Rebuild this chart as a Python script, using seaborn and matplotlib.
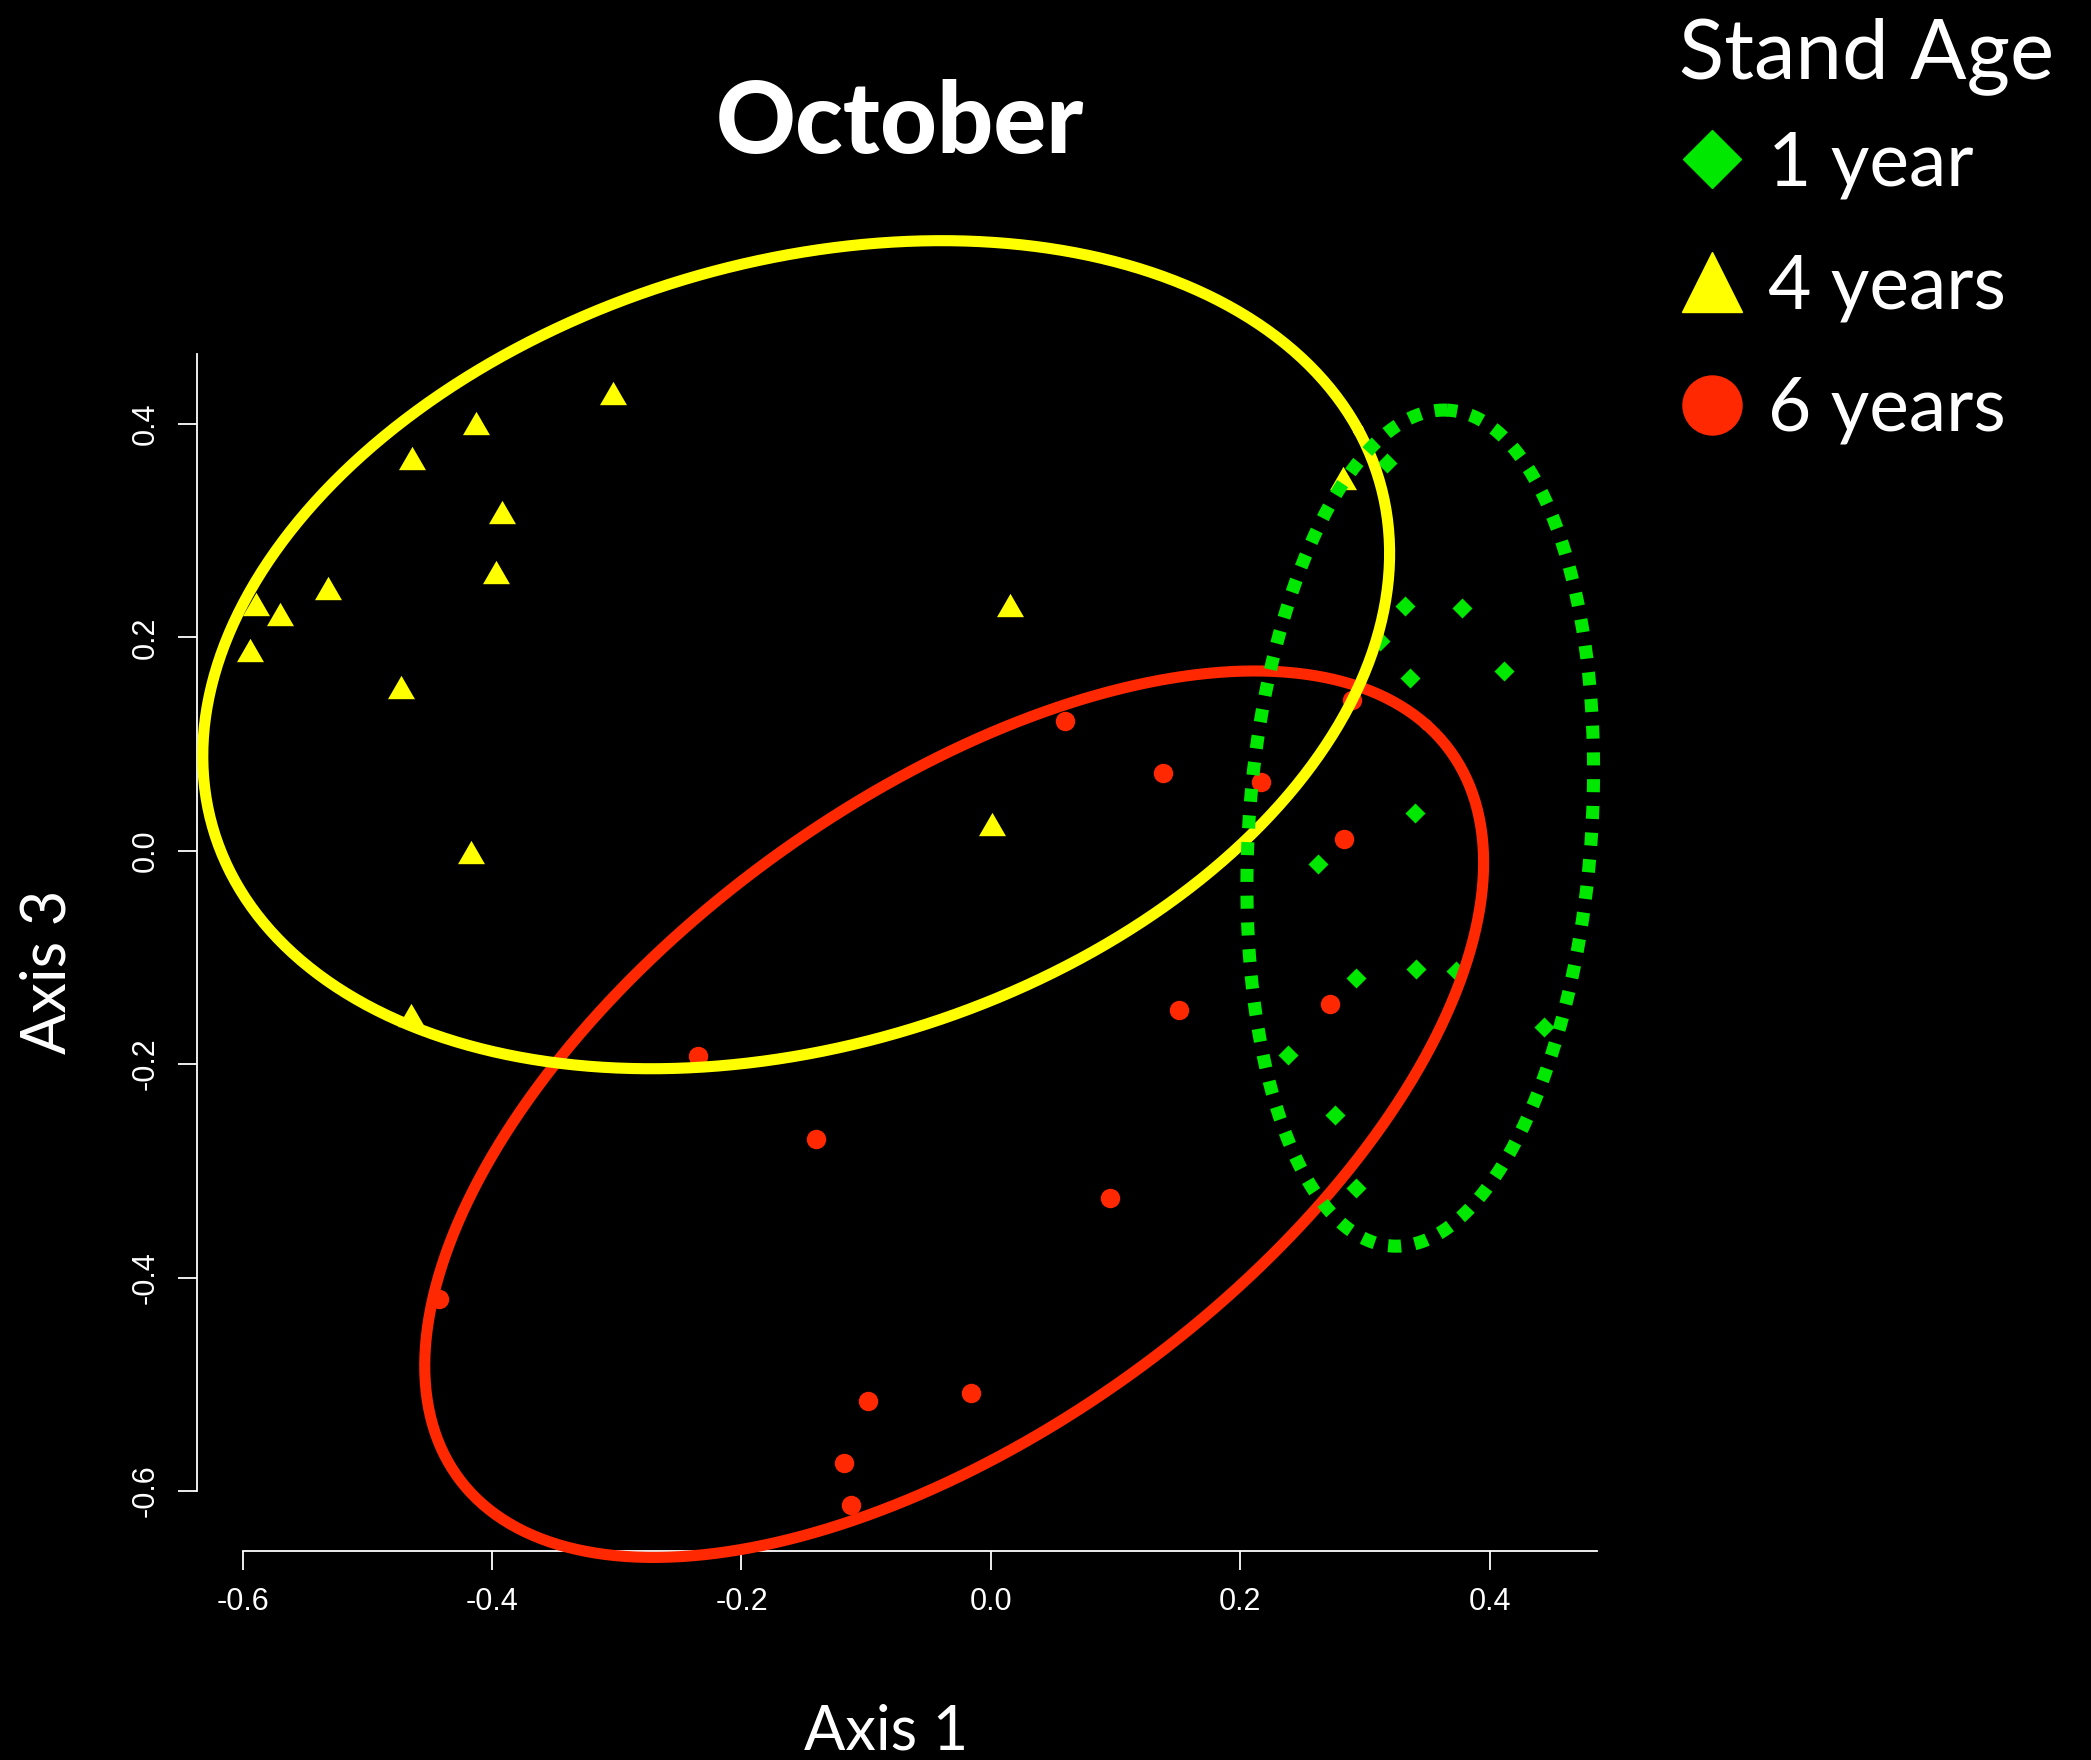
import numpy as np
import pandas as pd
import matplotlib
matplotlib.use("Agg")
import matplotlib.pyplot as plt
import seaborn as sns
from matplotlib.lines import Line2D

# points de l'ordination (Axis 1 / Axis 3)
age1_x = [0.3325, 0.3777, 0.3122, 0.3362, 0.4116, 0.3402, 0.2627, 0.293, 0.341, 0.3732, 0.444, 0.2386, 0.276, 0.2926, 0.318]
age1_y = [0.2299, 0.2276, 0.1965, 0.1615, 0.1685, 0.035, -0.0124, -0.119, -0.111, -0.1129, -0.165, -0.191, -0.2475, -0.316, 0.3633]

age4_x = [-0.3027, -0.4126, -0.4645, -0.3922, -0.3969, -0.5315, -0.589, -0.5705, -0.5945, -0.4731, -0.4173, -0.4649, 0.015, 0.001, 0.2824]
age4_y = [0.429, 0.401, 0.368, 0.3177, 0.2614, 0.2464, 0.2314, 0.2223, 0.1886, 0.1532, -0.0014, -0.1536, 0.23, 0.025, 0.349]

age6_x = [0.0595, 0.1383, 0.2166, 0.2894, 0.283, 0.1512, 0.2724, -0.2352, -0.1405, 0.0959, -0.4429, -0.0158, -0.0982, -0.1175, -0.1123]
age6_y = [0.1215, 0.0725, 0.0645, 0.1409, 0.0113, -0.1496, -0.1433, -0.1921, -0.2703, -0.3256, -0.4198, -0.508, -0.5161, -0.5743, -0.6135]

groupes = ["1 year", "4 years", "6 years"]
couleurs = {"1 year": "#00E800", "4 years": "#FFFF00", "6 years": "#FF2800"}

# ellipses (centre, demi-axes, angle en degres) dans l'ordre de trace
ell_groupe = ["6 years", "4 years", "1 year"]
ell_cx = [-0.0294, -0.1561, 0.3444]
ell_cy = [-0.2469, 0.1838, 0.02125]
ell_a = [0.526, 0.4976, 0.3924]
ell_b = [0.2761, 0.3599, 0.1375]
ell_angle = [43.9, 25.0, 86.8]

xticks = [-0.6, -0.4, -0.2, 0.0, 0.2, 0.4]
xtick_labels = ["-0.6", "-0.4", "-0.2", "0.0", "0.2", "0.4"]
yticks = [-0.6, -0.4, -0.2, 0.0, 0.2, 0.4]
ytick_labels = ["-0.6", "-0.4", "-0.2", "0.0", "0.2", "0.4"]

df = pd.DataFrame({
    "x": age1_x + age4_x + age6_x,
    "y": age1_y + age4_y + age6_y,
    "age": ["1 year"] * len(age1_x) + ["4 years"] * len(age4_x) + ["6 years"] * len(age6_x),
})

sns.set_theme(style="ticks")
plt.rcParams["font.family"] = ["Lato", "DejaVu Sans"]
plt.rcParams["axes.unicode_minus"] = False

fig = plt.figure(figsize=(20.91, 17.6), dpi=100, facecolor="black")
ax = fig.add_axes([0.0803, 0.1044, 0.6917, 0.7759])
ax.set_facecolor("black")

triangle = [(-0.5, -0.433), (0.5, -0.433), (0.0, 0.433)]
marqueurs = {"1 year": "D", "4 years": triangle, "6 years": "o"}
tailles = {"1 year": 104, "4 years": 378, "6 years": 196}

for g in groupes:
    sous = df[df["age"] == g]
    sns.scatterplot(data=sous, x="x", y="y", marker=marqueurs[g], s=tailles[g],
                    color=couleurs[g], linewidth=0, ax=ax, zorder=2, legend=False)

t = np.linspace(0, 2 * np.pi, 500)
for g, cx, cy, a, b, ang in zip(ell_groupe, ell_cx, ell_cy, ell_a, ell_b, ell_angle):
    phi = np.deg2rad(ang)
    ex = cx + a * np.cos(t) * np.cos(phi) - b * np.sin(t) * np.sin(phi)
    ey = cy + a * np.cos(t) * np.sin(phi) + b * np.sin(t) * np.cos(phi)
    if g == "1 year":
        ax.plot(ex, ey, color=couleurs[g], lw=9.4, linestyle=(0, (1.0, 1.05)),
                dash_capstyle="butt", zorder=5, clip_on=False)
    else:
        ax.plot(ex, ey, color=couleurs[g], lw=8, zorder=3 if g == "6 years" else 4,
                clip_on=False, solid_capstyle="round")

ax.set_xlim(-0.66, 0.50)
ax.set_ylim(-0.68, 0.60)

# axes a la R : decales et limites
sns.despine(ax=ax)
ax.spines["left"].set_position(("data", -0.6364))
ax.spines["bottom"].set_position(("data", -0.656))
ax.spines["left"].set_bounds(-0.6, 0.466)
ax.spines["bottom"].set_bounds(-0.6, 0.486)
for sp in ["left", "bottom"]:
    ax.spines[sp].set_color("white")
    ax.spines[sp].set_linewidth(1.3)

ax.set_xticks(xticks)
ax.set_xticklabels(xtick_labels, fontfamily="Liberation Sans", fontsize=22, color="white")
ax.set_yticks(yticks)
ax.set_yticklabels(ytick_labels, fontfamily="Liberation Sans", fontsize=22, color="white",
                   rotation=90, va="center")
ax.tick_params(axis="both", direction="out", length=13.7, width=1.3, color="white", pad=12.5)

ax.set_xlabel("Axis 1", fontsize=44, color="white")
ax.set_ylabel("Axis 3", fontsize=44, color="white")
ax.xaxis.set_label_coords(0.4965, -0.0935)
ax.yaxis.set_label_coords(-0.0635, 0.4425)

ax.set_title("October", fontsize=71, fontweight="black", color="white", x=0.506, y=1.0422, pad=0)

poignees = [
    Line2D([], [], marker="D", color=couleurs["1 year"], markersize=30, linestyle="None"),
    Line2D([], [], marker="^", color=couleurs["4 years"], markersize=42.5, linestyle="None"),
    Line2D([], [], marker="o", color=couleurs["6 years"], markersize=42.5, linestyle="None"),
]
leg = ax.legend(poignees, groupes, title="Stand Age", loc="upper left",
                bbox_to_anchor=(0.803, 0.9905), bbox_transform=fig.transFigure,
                frameon=False, fontsize=54, title_fontsize=60, alignment="left",
                borderpad=0, borderaxespad=0, handlelength=0.88, handletextpad=0.31,
                labelspacing=0.71)
leg._legend_box.sep = 25  # ecart titre / entrees
for txt in leg.get_texts():
    txt.set_color("white")
leg.get_title().set_color("white")

fig.savefig("out.png", dpi=100, facecolor="black")
